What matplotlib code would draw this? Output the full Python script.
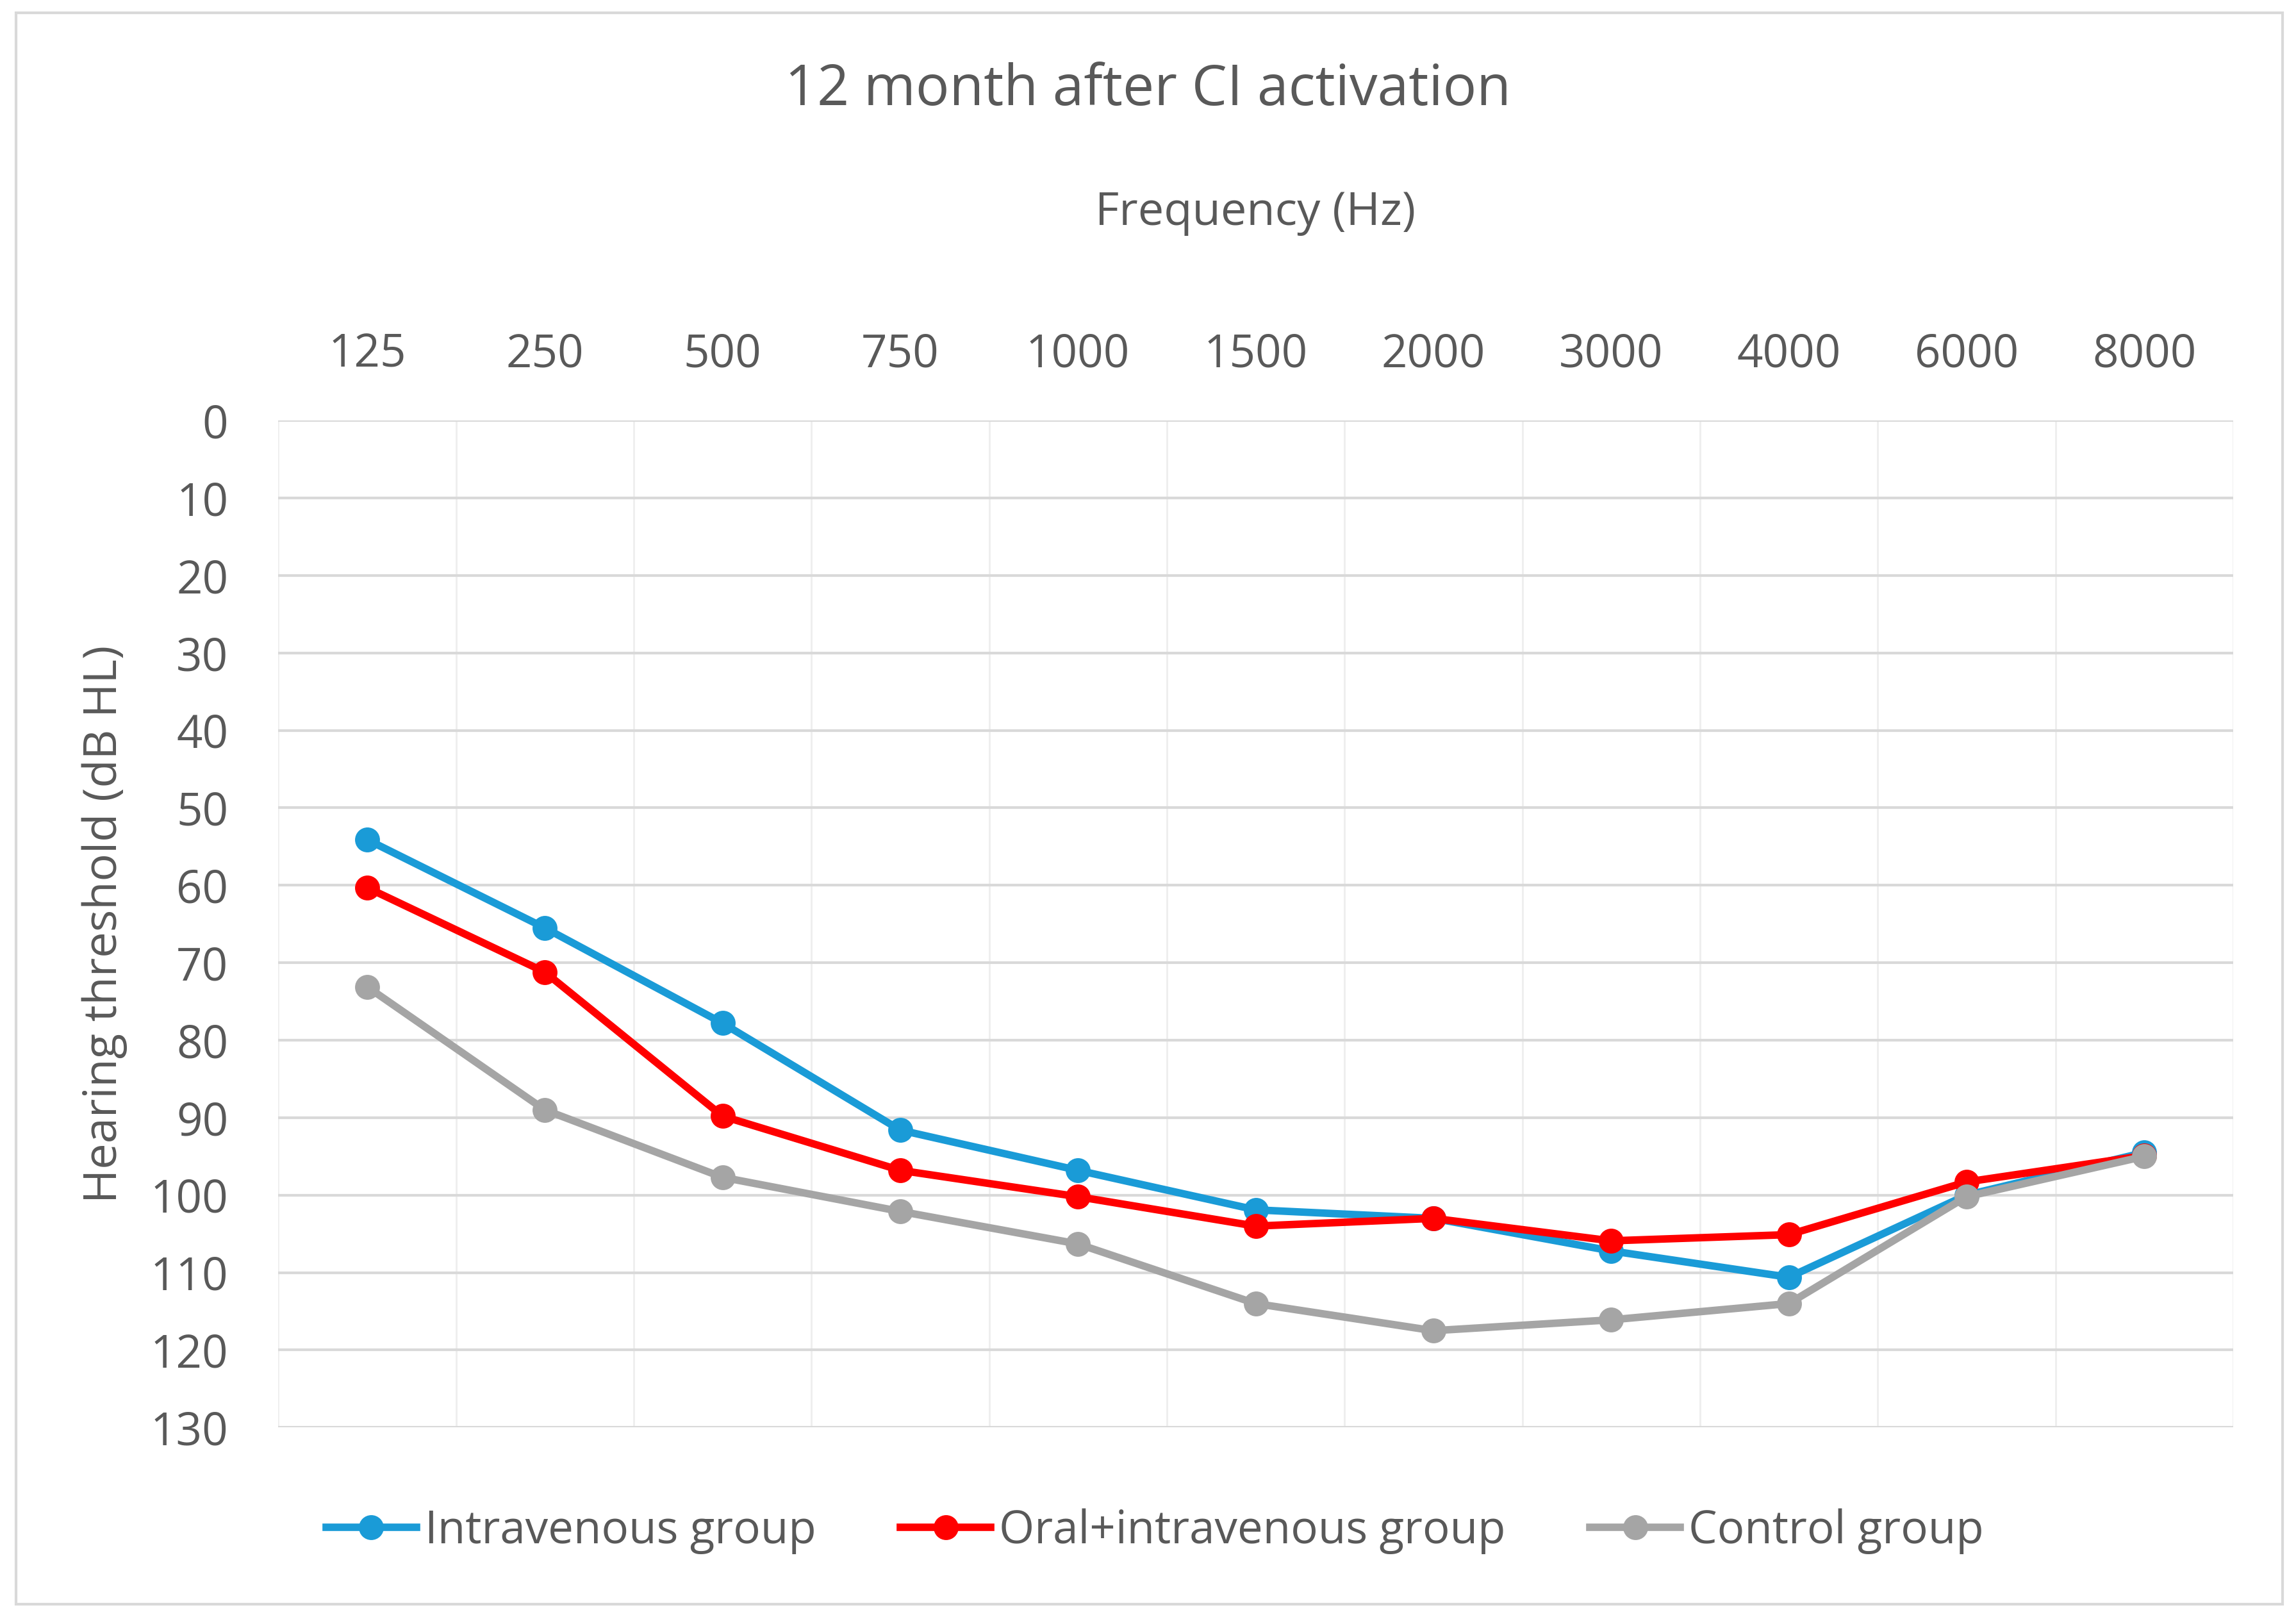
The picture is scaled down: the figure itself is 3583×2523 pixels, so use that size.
import numpy as np
import matplotlib.pyplot as plt
from matplotlib.patches import Rectangle

plt.rcParams['font.family'] = ['Open Sans', 'DejaVu Sans']

# data
freqs = ["125", "250", "500", "750", "1000", "1500", "2000", "3000", "4000", "6000", "8000"]
intravenous = [54.1, 65.5, 77.8, 91.6, 96.8, 101.9, 103.0, 107.2, 110.6, 100.0, 94.5]
oral_iv = [60.3, 71.2, 89.8, 96.8, 100.2, 104.0, 103.0, 105.9, 105.1, 98.3, 94.9]
control = [73.1, 89.0, 97.7, 102.1, 106.3, 114.0, 117.5, 116.1, 114.0, 100.2, 95.0]
yticks = list(range(0, 131, 10))

txt = '#595959'
fig = plt.figure(figsize=(3583 / 200, 2523 / 200), dpi=200)
fig.patches.append(Rectangle((0.007, 0.008), 0.987, 0.984, transform=fig.transFigure,
                             fill=False, edgecolor='#d9d9d9', linewidth=1.5))

ax = fig.add_axes([0.1212, 0.1172, 0.8514, 0.6227])
x = np.arange(len(freqs))

ax.plot(x, intravenous, color='#1a9bd7', lw=4.2, marker='o', ms=13, label='Intravenous group', zorder=3)
ax.plot(x, oral_iv, color='#ff0000', lw=4.2, marker='o', ms=13, label='Oral+intravenous group', zorder=4)
ax.plot(x, control, color='#a5a5a5', lw=4.2, marker='o', ms=13, label='Control group', zorder=5)

ax.set_xlim(-0.5, len(freqs) - 0.5)
ax.set_ylim(130, 0)
ax.set_yticks(yticks)
ax.set_xticks(x)
ax.set_xticklabels(freqs)
ax.set_xticks(np.arange(-0.5, len(freqs), 0.5), minor=True)
ax.xaxis.tick_top()
ax.xaxis.set_label_position('top')
ax.tick_params(axis='both', which='both', length=0, labelsize=25.5, colors=txt)
ax.tick_params(axis='x', pad=24)
ax.tick_params(axis='y', pad=28)

ax.grid(axis='y', color='#d9d9d9', lw=1.5, zorder=0)
ax.grid(axis='x', which='minor', color='#eeeeee', lw=1.0, zorder=0)
for s in ax.spines.values():
    s.set_visible(False)

ax.set_xlabel('Frequency (Hz)', fontsize=26, color=txt, labelpad=60)
ax.set_ylabel('Hearing threshold (dB HL)', fontsize=26, color=txt, labelpad=13)
fig.text(0.5, 0.944, '12 month after CI activation', ha='center', va='center', fontsize=31.5, color=txt)

leg = fig.legend(loc='center', bbox_to_anchor=(0.503, 0.053), ncol=3, frameon=False,
                 fontsize=25.5, handlelength=2.0, handletextpad=0.18, columnspacing=1.85)
for t in leg.get_texts():
    t.set_color(txt)

fig.savefig('out.png', dpi=200, facecolor='white')
